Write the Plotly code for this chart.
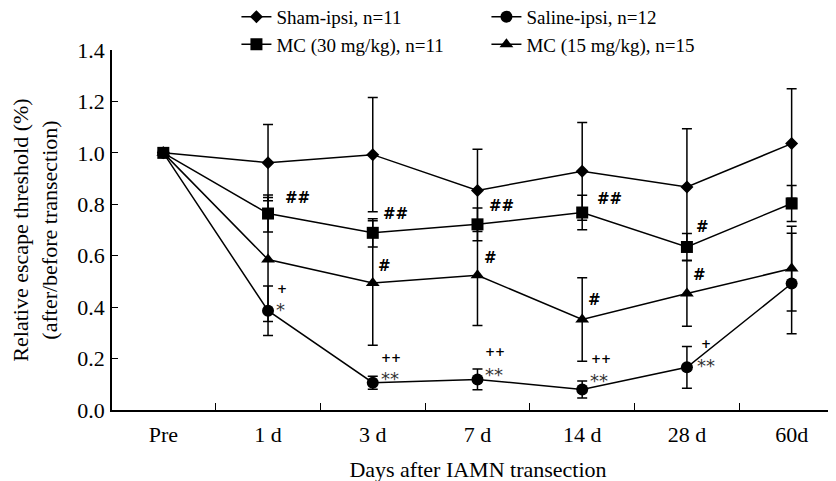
import plotly.graph_objects as go

categories = ["Pre", "1 d", "3 d", "7 d", "14 d", "28 d", "60d"]

sham = [1.0, 0.962, 0.993, 0.854, 0.928, 0.867, 1.036]
sham_err = [0, 0.148, 0.222, 0.160, 0.190, 0.227, 0.213]
saline = [1.0, 0.386, 0.106, 0.119, 0.080, 0.166, 0.492]
saline_err = [0, 0.096, 0.025, 0.040, 0.033, 0.081, 0.195]
mc30 = [1.0, 0.764, 0.689, 0.722, 0.768, 0.634, 0.803]
mc30_err = [0, 0.072, 0.055, 0.064, 0.067, 0.052, 0.070]
mc15 = [1.0, 0.585, 0.494, 0.524, 0.352, 0.453, 0.550]
mc15_err = [0, 0.241, 0.242, 0.195, 0.162, 0.127, 0.165]

y_ticks = [0.0, 0.2, 0.4, 0.6, 0.8, 1.0, 1.2, 1.4]

series = {
    "sham": ("Sham-ipsi, n=11", sham, sham_err, "diamond", 10, 1),
    "saline": ("Saline-ipsi, n=12", saline, saline_err, "circle", 12, 2),
    "mc15": ("MC (15 mg/kg), n=15", mc15, mc15_err, "triangle-up", 12, 4),
    "mc30": ("MC (30 mg/kg), n=11", mc30, mc30_err, "square", 12, 3),
}

# significance marks: (series, category index, text, xshift, yshift)
sig_marks = [
    ("mc30", 1, "##", 29, 16), ("saline", 1, "+", 14, 22), ("saline", 1, "*", 12, 1),
    ("mc30", 2, "##", 23, 19), ("mc15", 2, "#", 12, 17), ("saline", 2, "++", 18, 25), ("saline", 2, "**", 17, 4),
    ("mc30", 3, "##", 24, 18), ("mc15", 3, "#", 13, 17), ("saline", 3, "++", 18, 27), ("saline", 3, "**", 17, 5),
    ("mc30", 4, "##", 27, 14), ("mc15", 4, "#", 12, 19), ("saline", 4, "++", 19, 30), ("saline", 4, "**", 17, 9),
    ("mc30", 5, "#", 16, 20), ("mc15", 5, "#", 13, 19), ("saline", 5, "+", 19, 23), ("saline", 5, "**", 19, 2),
]

fig = go.Figure()
for key, (name, vals, errs, sym, size, rank) in series.items():
    fig.add_trace(go.Scatter(
        x=categories, y=vals, name=name, mode="lines+markers",
        line=dict(color="black", width=1.5),
        marker=dict(symbol=sym, size=size, color="black"),
        error_y=dict(type="data", array=errs, visible=True, color="black", thickness=1.5, width=5),
        legendrank=rank,
    ))

for key, ci, text, dx, dy in sig_marks:
    vals = series[key][1]
    if "#" in text:
        f = dict(family="DejaVu Sans", size=15, color="black")
        text = "<b>" + text + "</b>"
    elif "*" in text:
        f = dict(family="DejaVu Sans", size=18, color="#333")
    else:
        f = dict(family="DejaVu Sans", size=12, color="black")
        text = "<b>" + text + "</b>"
    fig.add_annotation(x=categories[ci], y=vals[ci], text=text, showarrow=False,
                       xshift=dx, yshift=dy, font=f, xanchor="center", yanchor="middle")

fig.update_layout(
    width=836, height=481,
    margin=dict(l=104, r=0, t=42, b=79, autoexpand=False),
    paper_bgcolor="white", plot_bgcolor="white",
    font=dict(family="Liberation Serif", size=19, color="black"),
    showlegend=True,
    legend=dict(orientation="h", x=0.17, y=1.145, xanchor="left", yanchor="top",
                entrywidth=205, font=dict(size=19), bgcolor="rgba(0,0,0,0)"),
    xaxis=dict(
        type="category", range=[-0.49, 6.5], showline=True, linecolor="black", linewidth=1.5,
        ticks="inside", ticklen=7, tickwidth=1.2, tickcolor="black", tickson="boundaries",
        showgrid=False, zeroline=False, tickfont=dict(size=22), ticklabelstandoff=4,
        title=dict(text="Days after IAMN transection", font=dict(size=22), standoff=15),
    ),
    yaxis=dict(
        range=[0, 1.4], tickvals=y_ticks, ticktext=[f"{v:.1f}" for v in y_ticks],
        showline=True, linecolor="black", linewidth=1.5,
        ticks="inside", ticklen=6, tickwidth=1.2, tickcolor="black",
        showgrid=False, zeroline=False, tickfont=dict(size=22), ticklabelstandoff=1,
        title=dict(text="Relative escape threshold (%)<br>(after/before transection)", font=dict(size=22), standoff=16),
    ),
)

fig.write_html("out.html")
